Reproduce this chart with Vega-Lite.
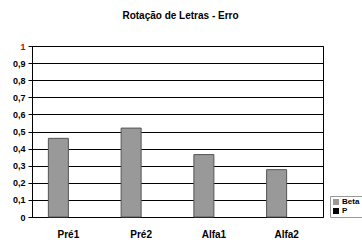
{
  "$schema": "https://vega.github.io/schema/vega-lite/v6.json",
  "width": 291,
  "height": 171,
  "autosize": "none",
  "padding": {"left": 32, "top": 46, "right": 39, "bottom": 34},
  "background": "white",
  "title": {"text": "Rotação de Letras - Erro", "font": "Liberation Sans", "fontSize": 10, "fontWeight": "bold", "color": "black", "offset": 21, "anchor": "middle", "dx": 3},
  "data": {"values": [
    {"cat": "Pré1", "serie": "Beta", "valor": 0.46},
    {"cat": "Pré2", "serie": "Beta", "valor": 0.52},
    {"cat": "Alfa1", "serie": "Beta", "valor": 0.365},
    {"cat": "Alfa2", "serie": "Beta", "valor": 0.277},
    {"cat": "Pré1", "serie": "P", "valor": 0},
    {"cat": "Pré2", "serie": "P", "valor": 0},
    {"cat": "Alfa1", "serie": "P", "valor": 0},
    {"cat": "Alfa2", "serie": "P", "valor": 0}
  ]},
  "mark": {"type": "bar", "stroke": "#555555", "strokeWidth": 1},
  "encoding": {
    "x": {"field": "cat", "type": "nominal", "sort": ["Pré1", "Pré2", "Alfa1", "Alfa2"],
      "scale": {"paddingInner": 0.45, "paddingOuter": 0.225},
      "axis": {"title": null, "labelAngle": 0, "labelFont": "Liberation Sans", "labelFontSize": 10, "labelFontWeight": "bold", "labelColor": "black", "ticks": false, "domain": false, "labelPadding": 12}},
    "xOffset": {"field": "serie", "type": "nominal", "sort": ["Beta", "P"], "scale": {"paddingInner": 0, "paddingOuter": 0}},
    "y": {"field": "valor", "type": "quantitative", "scale": {"domain": [0, 1], "nice": false},
      "axis": {"title": null, "values": [0, 0.1, 0.2, 0.3, 0.4, 0.5, 0.6, 0.7, 0.8, 0.9, 1], "format": ".1~f",
        "labelExpr": "replace(datum.label, '.', ',')",
        "labelFont": "Liberation Sans", "labelFontSize": 9, "labelFontWeight": "bold",
        "labelColor": {"condition": {"test": "datum.value == 1", "value": "#cc0000"}, "value": "black"},
        "grid": true, "gridColor": "black", "gridOpacity": 1, "gridWidth": 1,
        "tickColor": "black", "tickSize": 4, "domainColor": "black", "labelPadding": 3}},
    "color": {"field": "serie", "type": "nominal", "sort": ["Beta", "P"],
      "scale": {"domain": ["Beta", "P"], "range": ["#999999", "#000000"]},
      "legend": {"title": null, "orient": "none", "legendX": 298, "legendY": 150, "symbolType": "square", "symbolSize": 36, "symbolStrokeWidth": 0,
        "labelFont": "Liberation Sans", "labelFontSize": 8, "labelFontWeight": "bold", "labelColor": "black",
        "strokeColor": "#999999", "padding": 2, "rowPadding": 1, "labelOffset": 2, "fillColor": "white"}},
    "strokeOpacity": {"condition": {"test": "datum.serie == 'P'", "value": 0}, "value": 1}
  },
  "config": {"view": {"stroke": "black", "strokeWidth": 1}}
}
